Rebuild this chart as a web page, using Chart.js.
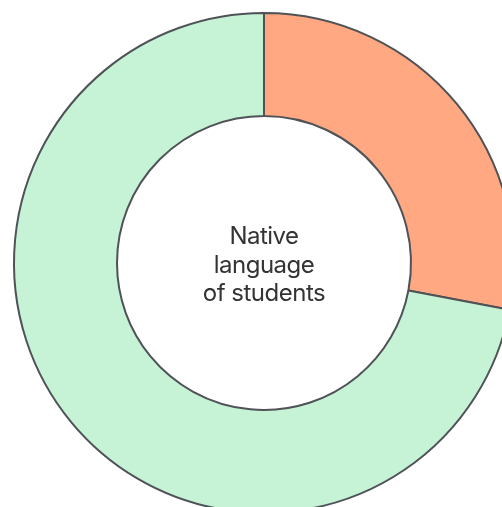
<!DOCTYPE html>
<html>
<head>
<meta charset="utf-8">
<script src="https://cdn.jsdelivr.net/npm/chart.js@4"></script>
<style>
  html, body { margin: 0; padding: 0; background: #fff; overflow: hidden; }
  #wrap { position: absolute; left: -1px; top: 0; width: 530px; height: 526px; }
  #label {
    position: absolute; left: 115px; top: 222px; width: 300px;
    text-align: center; font-family: Inter, "Noto Sans", sans-serif;
    font-size: 24px; font-weight: 400; line-height: 28.5px; color: #333;
    letter-spacing: -0.5px;
  }
</style>
</head>
<body>
<div id="wrap">
  <canvas id="chart" width="530" height="526"></canvas>
  <div id="label">Native<br>language<br>of students</div>
</div>
<script>
// Native language shares
const labels = ['Other', 'Native'];
const values = [28, 72];
const colors = ['#FFA882', '#C6F3D6'];

const ctx = document.getElementById('chart').getContext('2d');
new Chart(ctx, {
  type: 'doughnut',
  data: {
    labels: labels,
    datasets: [{
      data: values,
      backgroundColor: colors,
      borderColor: '#4f5257',
      borderWidth: 2
    }]
  },
  options: {
    responsive: false,
    animation: false,
    cutout: '58.8%',
    layout: { padding: { left: 13, top: 12, right: 13, bottom: 12 } },
    plugins: {
      legend: { display: false },
      tooltip: { enabled: false }
    }
  }
});
</script>
</body>
</html>
